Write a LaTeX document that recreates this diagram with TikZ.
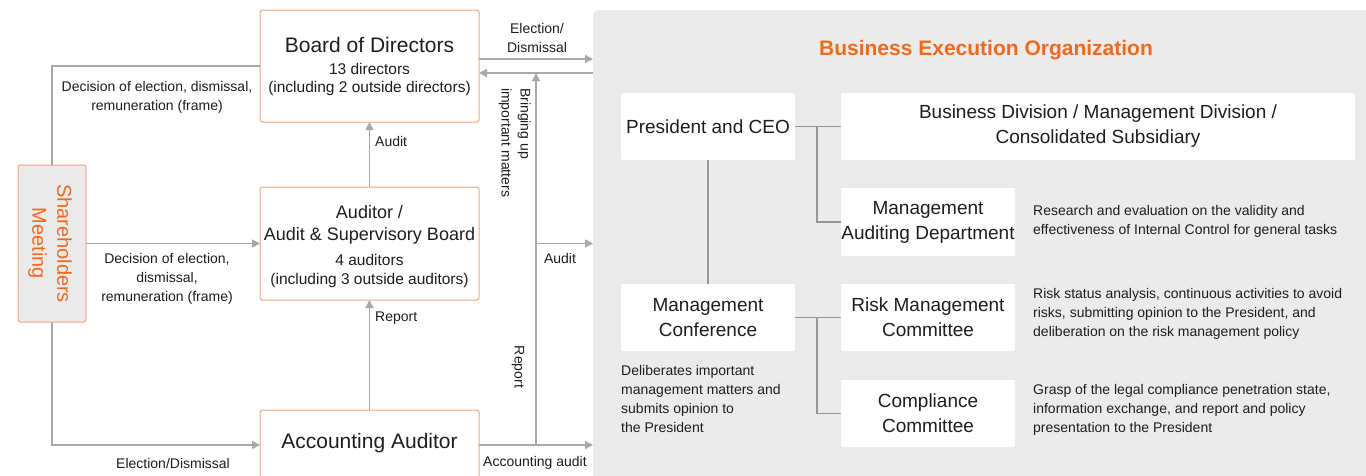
\documentclass[tikz,border=0pt]{standalone}
\usepackage{fontspec}
\setmainfont{Liberation Sans}
\usetikzlibrary{arrows.meta}
\definecolor{orgline}{HTML}{F4A574}
\definecolor{orgtitle}{HTML}{EE6A1F}
\definecolor{panelgray}{HTML}{EBEBEB}
\definecolor{shgray}{HTML}{EAEAEA}
\definecolor{arrowgray}{HTML}{A8A8A8}
\definecolor{ink}{HTML}{1E1E1E}
\begin{document}
\begin{tikzpicture}[x=1pt,y=-1pt,
  obox/.style={draw=orgline, line width=1pt, fill=white, rounded corners=2.5pt, inner sep=0pt, outer sep=0pt, anchor=north west},
  wbox/.style={fill=white, rounded corners=2pt, inner sep=0pt, outer sep=0pt, anchor=north west, align=center, text=ink, font=\fontsize{19}{25}\selectfont},
  conn/.style={draw=arrowgray, line width=1.4pt},
  pconn/.style={draw=arrowgray!90!black, line width=1.2pt},
  arr/.style={conn, -{Triangle[length=8pt,width=8pt]}},
  bigt/.style={font=\fontsize{21}{25}\selectfont, text=ink, inner sep=0pt, align=center},
  audt/.style={font=\fontsize{18}{24}\selectfont, text=ink, inner sep=0pt, align=center},
  smallt/.style={font=\fontsize{15.5}{19}\selectfont, text=ink, inner sep=0pt, align=center},
  lab/.style={font=\fontsize{14}{19}\selectfont, text=ink, inner sep=0pt, align=center},
  desc/.style={font=\fontsize{14}{19}\selectfont, text=ink, inner sep=0pt, align=left, anchor=west},
]
\useasboundingbox (0,0) rectangle (1366,475);
\fill[white] (0,0) rectangle (1366,475);

% panel
\node[fill=panelgray, rounded corners=6pt, minimum width=790, minimum height=480, anchor=north west, inner sep=0pt, outer sep=0pt] (panel) at (593,10) {};
\node[font=\fontsize{21}{25}\selectfont\bfseries, text=orgtitle, inner sep=0pt] (title) at (986,50) {Business Execution Organization};

% left boxes
\node[obox, minimum width=219, minimum height=112] (bod) at (260,10) {};
\node[obox, minimum width=219, minimum height=113] (aud) at (260,187) {};
\node[obox, minimum width=219, minimum height=70] (acc) at (260,410) {};
\node[draw=orgline, line width=1pt, fill=shgray, rounded corners=2.5pt, inner sep=0pt, outer sep=0pt, anchor=north west, minimum width=68, minimum height=157] (sh) at (18,165) {};

\node[bigt] (bodt1) at (369.5,45) {Board of Directors};
\node[smallt] (bodt2) at (369.5,69) {13 directors};
\node[smallt] (bodt3) at (369.5,88) {(including 2 outside directors)};
\node[audt] (audt1) at (369.5,212) {Auditor /};
\node[audt] (audt2) at (369.5,236) {Audit \& Supervisory Board};
\node[smallt] (audt3) at (369.5,260) {4 auditors};
\node[smallt] (audt4) at (369.5,280) {(including 3 outside auditors)};
\node[bigt] (acct) at (369.5,443) {Accounting Auditor};
\node[font=\fontsize{20}{25}\selectfont, text=orgtitle, rotate=-90, align=center, inner sep=0pt] (sht) at (50,243.5) {Shareholders\\Meeting};

% panel boxes
\node[wbox, minimum width=174, minimum height=67] (pres) at (621,93) {President and CEO};
\node[wbox, minimum width=514, minimum height=67] (bus) at (841,93) {Business Division / Management Division /\\Consolidated Subsidiary};
\node[wbox, minimum width=174, minimum height=68] (mad) at (841,188) {Management\\Auditing Department};
\node[wbox, minimum width=174, minimum height=67] (mc) at (621,284) {Management\\Conference};
\node[wbox, minimum width=174, minimum height=67] (risk) at (841,284) {Risk Management\\Committee};
\node[wbox, minimum width=174, minimum height=67] (comp) at (841,380) {Compliance\\Committee};

\node[desc] (madd) at (1033,221.5) {Research and evaluation on the validity and\\effectiveness of Internal Control for general tasks};
\node[desc] (riskd) at (1033,314) {Risk status analysis, continuous activities to avoid\\risks, submitting opinion to the President, and\\deliberation on the risk management policy};
\node[desc] (compd) at (1033,410) {Grasp of the legal compliance penetration state,\\information exchange, and report and policy\\presentation to the President};
\node[desc] (mcd) at (621,398.5) {Deliberates important\\management matters and\\submits opinion to\\the President};

% panel connectors
\coordinate (bx) at (817,0);
\draw[pconn] (pres.east) -- (bus.west);
\draw[pconn] (bx |- pres.east) |- (mad.west);
\draw[pconn] (pres.south) -- (mc.north);
\draw[pconn] (mc.east) -- (risk.west);
\draw[pconn] (bx |- mc.east) |- (comp.west);

% left connectors
\draw[conn] (sh.north) |- (bod.west);
\draw[arr] (sh.east) -- (aud.west);
\draw[arr] (sh.south) |- (acc.west);
\draw[arr] (aud.north) -- (bod.south);
\draw[arr] (acc.north) -- (aud.south);

\coordinate (bodout) at ([yshift=7pt]bod.east);
\coordinate (bodin) at ([yshift=-7pt]bod.east);
\coordinate (vx) at (536,0);
\draw[arr] (bodout) -- (bodout -| panel.west);
\draw[arr] (bodin -| panel.west) -- (bodin);
\draw[arr] (vx |- acc.east) -- (vx |- bodin);
\draw[arr] (vx |- aud.east) -- (aud.east -| panel.west);
\draw[arr] (acc.east) -- (acc.east -| panel.west);

% labels
\node[lab] (l1) at (157,97) {Decision of election, dismissal,\\remuneration (frame)};
\node[lab] (l2) at (167,279) {Decision of election,\\dismissal,\\remuneration (frame)};
\node[lab] (l3) at (173,463) {Election/Dismissal};
\node[lab, anchor=west] (l4) at (375,141) {Audit};
\node[lab, anchor=west] (l5) at (375,318) {Report};
\node[lab] (l6) at (537,38) {Election/\\Dismissal};
\node[lab] (l7) at (560,258) {Audit};
\node[lab] (l8) at (535,463) {Accounting audit};
\node[lab, rotate=-90] (l9) at (518,367) {Report};
\node[lab, rotate=-90, align=left, anchor=north west] (l10) at (531,88) {Bringing up\\important matters};
\end{tikzpicture}
\end{document}
